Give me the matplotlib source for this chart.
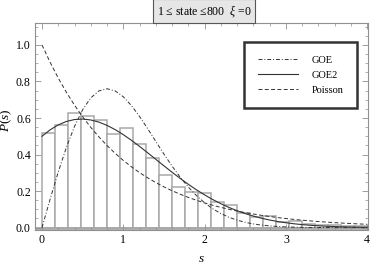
import numpy as np
import matplotlib
matplotlib.use("Agg")
import matplotlib.pyplot as plt
from matplotlib.ticker import MultipleLocator

plt.rcParams['font.family'] = ['Liberation Serif', 'DejaVu Serif']
plt.rcParams['mathtext.fontset'] = 'custom'
plt.rcParams['mathtext.rm'] = 'Liberation Serif'
plt.rcParams['mathtext.it'] = 'Liberation Serif:italic'

# ---- data ----
bin_width = 0.16
hist_heights = [0.518, 0.564, 0.628, 0.611, 0.591, 0.515, 0.546, 0.460, 0.381,
                0.290, 0.224, 0.193, 0.188, 0.141, 0.126, 0.082, 0.060, 0.064,
                0.031, 0.037, 0.020, 0.013, 0.016, 0.007, 0.009]

s_vals = [0.0, 0.1, 0.2, 0.3, 0.4, 0.5, 0.6, 0.7, 0.8, 0.9, 1.0, 1.1, 1.2, 1.3,
          1.4, 1.5, 1.6, 1.7, 1.8, 1.9, 2.0, 2.1, 2.2, 2.3, 2.4, 2.5, 2.6, 2.7,
          2.8, 2.9, 3.0, 3.1, 3.2, 3.3, 3.4, 3.5, 3.6, 3.7, 3.8, 3.9, 4.0]

goe_vals = [0.0, 0.1559, 0.3044, 0.4391, 0.5541, 0.6454, 0.7104, 0.7483, 0.7602,
            0.7483, 0.7162, 0.6680, 0.6083, 0.5416, 0.4717, 0.4025, 0.3366,
            0.2760, 0.2220, 0.1752, 0.1358, 0.1033, 0.0772, 0.0567, 0.0409,
            0.0290, 0.0202, 0.0138, 0.0093, 0.0062, 0.0040, 0.0026, 0.0016,
            0.0010, 0.0006, 0.0004, 0.0002, 0.0001, 0.0001, 0.0, 0.0]

goe2_vals = [0.5, 0.5353, 0.5624, 0.5811, 0.5916, 0.5942, 0.5893, 0.5775, 0.5596,
             0.5365, 0.5089, 0.4780, 0.4446, 0.4096, 0.3739, 0.3382, 0.3031,
             0.2693, 0.2371, 0.2070, 0.1792, 0.1538, 0.1309, 0.1104, 0.0924,
             0.0767, 0.0631, 0.0515, 0.0417, 0.0335, 0.0267, 0.0211, 0.0165,
             0.0129, 0.0099, 0.0076, 0.0058, 0.0043, 0.0032, 0.0024, 0.0018]

poisson_vals = [1.0, 0.9048, 0.8187, 0.7408, 0.6703, 0.6065, 0.5488, 0.4966,
                0.4493, 0.4066, 0.3679, 0.3329, 0.3012, 0.2725, 0.2466, 0.2231,
                0.2019, 0.1827, 0.1653, 0.1496, 0.1353, 0.1225, 0.1108, 0.1003,
                0.0907, 0.0821, 0.0743, 0.0672, 0.0608, 0.0550, 0.0498, 0.0450,
                0.0408, 0.0369, 0.0334, 0.0302, 0.0273, 0.0247, 0.0224, 0.0202,
                0.0183]

title_text = "1 ≤ state ≤800  $\\xi$ =0"

# ---- figure ----
fig = plt.figure(figsize=(3.74, 2.64), dpi=100)
ax = fig.add_axes([35/374, 34/264, 333/374, 207/264])

bin_left = np.arange(len(hist_heights)) * bin_width
ax.bar(bin_left, hist_heights, width=bin_width, align='edge',
       facecolor='white', edgecolor='#a8a8a8', linewidth=1.1, zorder=1)
ax.axhline(0, color='#a8a8a8', lw=2.0, zorder=1.5)

ax.plot(s_vals, goe_vals, color='#333333', lw=0.7,
        linestyle=(0, (4, 2, 1, 2)), label='GOE', zorder=3)
ax.plot(s_vals, goe2_vals, color='#333333', lw=0.8,
        linestyle='-', label='GOE2', zorder=3)
ax.plot(s_vals, poisson_vals, color='#333333', lw=0.7,
        linestyle=(0, (4, 2.5)), label='Poisson', zorder=3)

ax.set_xlim(-0.086, 4.01)
ax.set_ylim(-0.013, 1.12)

ax.xaxis.set_major_locator(MultipleLocator(1))
ax.xaxis.set_minor_locator(MultipleLocator(0.2))
ax.yaxis.set_major_locator(MultipleLocator(0.2))
ax.yaxis.set_minor_locator(MultipleLocator(0.05))
ax.set_yticks([0, 0.2, 0.4, 0.6, 0.8, 1.0])
ax.set_yticklabels(['0.0', '0.2', '0.4', '0.6', '0.8', '1.0'])

for sp in ax.spines.values():
    sp.set_color('#909090')
    sp.set_linewidth(0.8)
ax.tick_params(which='both', direction='in', top=True, right=True,
               color='#909090', labelsize=8.5, pad=3)
ax.tick_params(which='major', length=4, width=0.6)
ax.tick_params(which='minor', length=2.2, width=0.5)

ax.set_xlabel('$s$', fontsize=9.5, labelpad=5)
ax.set_ylabel('$P(s)$', fontsize=9.5)
ax.yaxis.set_label_coords(-0.062, 0.53)

leg = ax.legend(loc='upper left', bbox_to_anchor=(0.628, 0.908),
                fontsize=7.5, frameon=True, fancybox=False,
                handlelength=3.9, handletextpad=1.3, labelspacing=0.55,
                borderpad=1.3, borderaxespad=0)
leg.get_frame().set_edgecolor('black')
leg.get_frame().set_linewidth(1.8)

fig.text(204/374, 1 - 11/264, title_text, ha='center', va='center', fontsize=8.5,
         bbox=dict(boxstyle='square,pad=0.3', facecolor='#e6e6e6',
                   edgecolor='#555555', linewidth=0.8))

fig.savefig('out.png', dpi=100)
